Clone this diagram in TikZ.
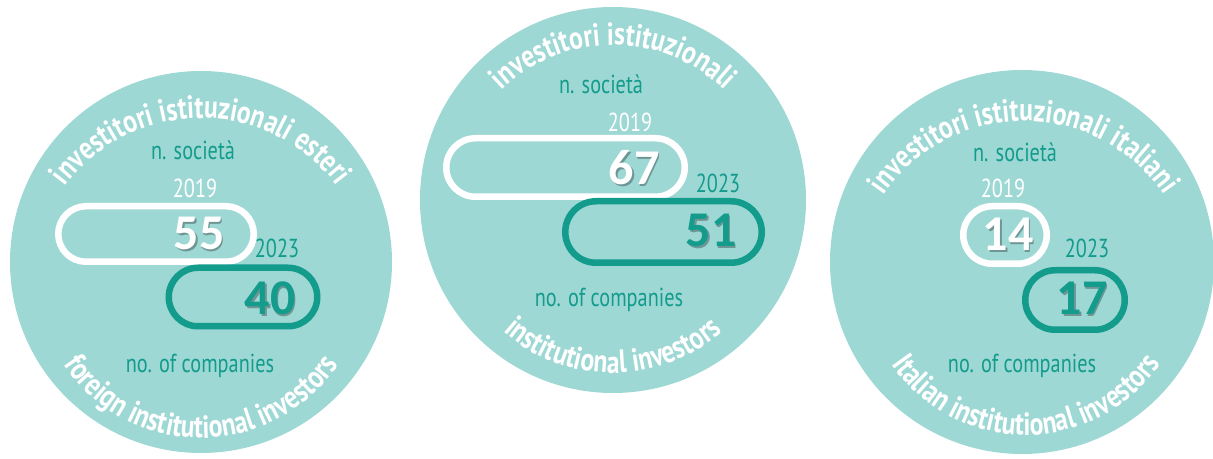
\documentclass[tikz,border=0pt]{standalone}
\usepackage{fontspec}
\usepackage{xcolor}
\usepackage{tikz}
\usetikzlibrary{shapes.misc,decorations.text}
\setmainfont{PT Sans}
\newfontfamily\labelfont[FakeStretch=0.78]{PT Sans}
\newfontfamily\arcfont[FakeStretch=0.8]{PT Sans}
\newfontfamily\numfont{Carlito}
\newcommand\arcstyle{\arcfont\bfseries\fontsize{32}{34}\selectfont}
\definecolor{discfill}{HTML}{9ED8D5}
\definecolor{tealline}{HTML}{139B8C}
\tikzset{
  disc/.style={fill=discfill},
  pill/.style={rounded rectangle, line width=6.5pt, inner sep=0pt},
  pilla/.style={pill, draw=white},
  pillb/.style={pill, draw=tealline},
  lbl/.style={font=\labelfont\fontsize{26}{28}\selectfont, text=tealline, inner sep=0pt},
  yeara/.style={lbl, text=white},
  num/.style={font=\numfont\bfseries\fontsize{50}{52}\selectfont, inner sep=0pt},
  numa/.style={num, text=white},
  numb/.style={num, text=tealline},
  numshade/.style={num, text=black, opacity=0.3},
  arctext/.style={decorate, decoration={text along path, text align=center, text color=white}}
}

\begin{document}
\begin{tikzpicture}[x=1pt,y=1pt]
        \useasboundingbox (0,0) rectangle (1213,458);
        % foreign
        \fill[disc] (201,196) circle[radius=191];
        \path[arctext, decoration={text={|\arcstyle|investitori istituzionali esteri}}]
            ([shift={(201,170)}]175:170) arc[start angle=175, end angle=5, radius=170];
        \path[arctext, decoration={text={|\arcstyle|foreign institutional investors}}]
            ([shift={(201,185)}]190:165) arc[start angle=190, end angle=350, radius=165];
        \node[lbl] (soc1) at (193,308) {n. società};
        \node[yeara] (y19a) at (195,270) {2019};
        \node[pilla, minimum width=195.5, minimum height=55.5] (p19a) at (156,224) {};
        \node[numshade] (n55s) at (200.5,223) {55};
        \node[numa] (n55) at (199,225) {55};
        \node[lbl] (y23a) at (277,210) {2023};
        \node[pillb, minimum width=148.5, minimum height=58.5] (p23a) at (243,161) {};
        \node[numshade] (n40s) at (271.5,158) {40};
        \node[numb] (n40) at (270,160) {40};
        \node[lbl] (comp1) at (200,92) {no. of companies};
        % all
        \fill[disc] (613,258) circle[radius=193];
        \path[arctext, decoration={text={|\arcstyle|investitori istituzionali}}]
            ([shift={(613,253)}]165:160) arc[start angle=165, end angle=15, radius=160];
        \path[arctext, decoration={text={|\arcstyle|institutional investors}}]
            ([shift={(613,250)}]200:165) arc[start angle=200, end angle=340, radius=165];
        \node[lbl] (soc2) at (601,374) {n. società};
        \node[yeara] (y19b) at (630,336) {2019};
        \node[pilla, minimum width=238.5, minimum height=58.5] (p19b) at (565.5,290.5) {};
        \node[numshade] (n67s) at (635.5,288) {67};
        \node[numa] (n67) at (634,290) {67};
        \node[lbl] (y23b) at (718,275) {2023};
        \node[pillb, minimum width=196.5, minimum height=61.5] (p23b) at (663.5,226) {};
        \node[numshade] (n51s) at (712.5,226) {51};
        \node[numb] (n51) at (711,228) {51};
        \node[lbl] (comp2) at (609,158) {no. of companies};
        % italian
        \fill[disc] (1022,196) circle[radius=192];
        \path[arctext, decoration={text={|\arcstyle|investitori istituzionali italiani}}]
            ([shift={(1024,167)}]175:170) arc[start angle=175, end angle=5, radius=170];
        \path[arctext, decoration={text={|\arcstyle|Italian institutional investors}}]
            ([shift={(1026,186)}]190:163) arc[start angle=190, end angle=350, radius=163];
        \node[lbl] (soc3) at (1015,306) {n. società};
        \node[yeara] (y19c) at (1003,270) {2019};
        \node[pilla, minimum width=83.5, minimum height=57.5] (p19c) at (1005,223) {};
        \node[numshade] (n14s) at (1009.5,222) {14};
        \node[numa] (n14) at (1008,224) {14};
        \node[lbl] (y23c) at (1087,210) {2023};
        \node[pillb, minimum width=99.5, minimum height=59.5] (p23c) at (1075,158) {};
        \node[numshade] (n17s) at (1083.5,158) {17};
        \node[numb] (n17) at (1082,160) {17};
        \node[lbl] (comp3) at (1022,92) {no. of companies};
    \end{tikzpicture}
\end{document}
